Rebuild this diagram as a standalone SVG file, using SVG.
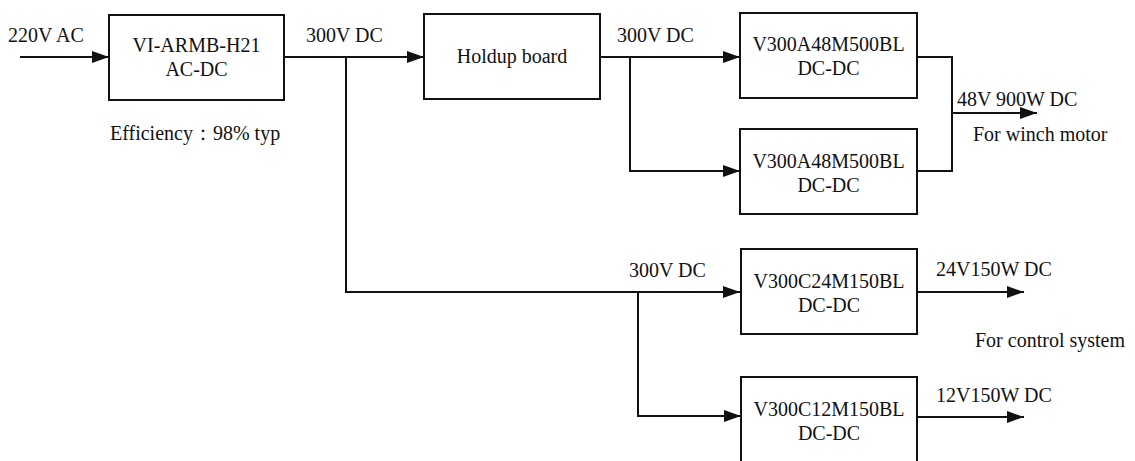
<svg xmlns="http://www.w3.org/2000/svg" width="1135" height="461" viewBox="0 0 1135 461">
<style>
text{font-family:"Liberation Serif","Times New Roman",serif;font-size:20px;fill:#111}
.c{text-anchor:middle}
rect{fill:#fff;stroke:#111;stroke-width:2}
#connectors path{fill:none;stroke:#111;stroke-width:2}
</style>
<defs>
<marker id="ah" markerUnits="userSpaceOnUse" markerWidth="18" markerHeight="12" refX="17" refY="6" orient="auto">
<path d="M0,0 L17,6 L0,12 z" fill="#111"/>
</marker>
</defs>
<rect x="0" y="0" width="1135" height="461" style="stroke:none;fill:#fff"/>
<g id="connectors">
<path d="M20,57 H109" marker-end="url(#ah)"/>
<path d="M284,57 H424" marker-end="url(#ah)"/>
<path d="M346,57 V292 H740" marker-end="url(#ah)"/>
<path d="M600,57 H740" marker-end="url(#ah)"/>
<path d="M630,57 V171 H740" marker-end="url(#ah)"/>
<path d="M917,57 H952 V171 H917"/>
<path d="M952,113 H1037" marker-end="url(#ah)"/>
<path d="M638,292 V416 H741" marker-end="url(#ah)"/>
<path d="M917,292 H1024" marker-end="url(#ah)"/>
<path d="M917,417 H1024" marker-end="url(#ah)"/>
</g>
<g id="labels">
<text x="8" y="42">220V AC</text>
<text x="306" y="42">300V DC</text>
<text x="110" y="140">Efficiency：98% typ</text>
<text x="617" y="42">300V DC</text>
<text x="957" y="106">48V 900W DC</text>
<text x="973" y="141">For winch motor</text>
<text x="629" y="277">300V DC</text>
<text x="936" y="276">24V150W DC</text>
<text x="975" y="347">For control system</text>
<text x="936" y="402">12V150W DC</text>
</g>
<g id="acdc">
<rect x="109" y="15" width="175" height="85"/>
<text class="c" x="196.5" y="52">VI-ARMB-H21</text>
<text class="c" x="196.5" y="76">AC-DC</text>
</g>
<g id="holdup">
<rect x="424" y="14" width="176" height="85"/>
<text class="c" x="512" y="63">Holdup board</text>
</g>
<g id="dcdc48a">
<rect x="740" y="13" width="177" height="85"/>
<text class="c" x="828.5" y="51">V300A48M500BL</text>
<text class="c" x="828.5" y="75">DC-DC</text>
</g>
<g id="dcdc48b">
<rect x="740" y="129" width="177" height="85"/>
<text class="c" x="828.5" y="168">V300A48M500BL</text>
<text class="c" x="828.5" y="192">DC-DC</text>
</g>
<g id="dcdc24">
<rect x="741" y="249" width="176" height="85"/>
<text class="c" x="829" y="288">V300C24M150BL</text>
<text class="c" x="829" y="312">DC-DC</text>
</g>
<g id="dcdc12">
<rect x="741" y="377" width="176" height="85"/>
<text class="c" x="829" y="416">V300C12M150BL</text>
<text class="c" x="829" y="440">DC-DC</text>
</g>
</svg>
